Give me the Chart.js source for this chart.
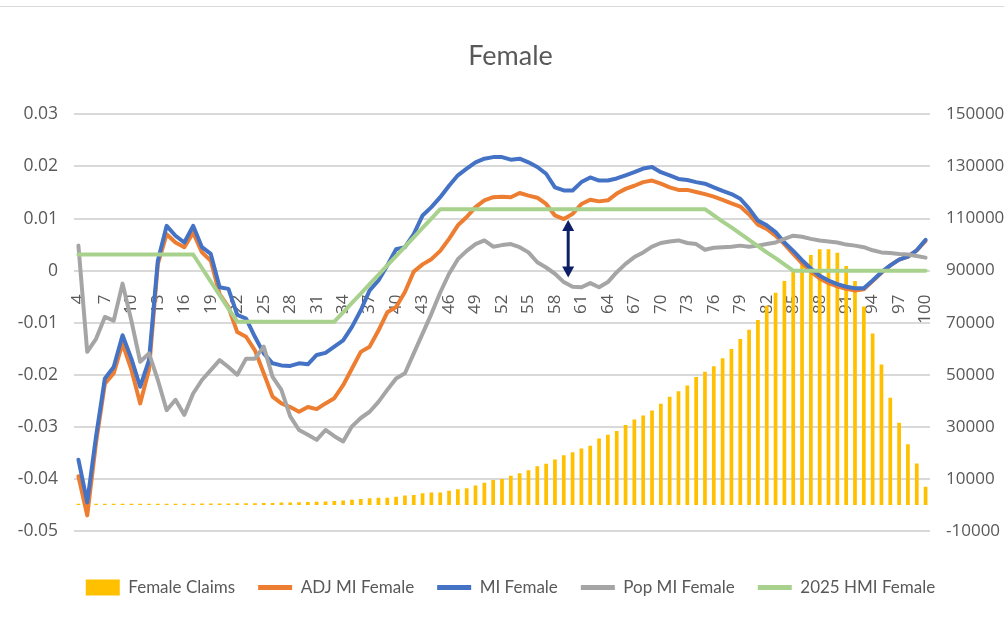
<!DOCTYPE html>
<html>
<head>
<meta charset="utf-8">
<title>Female</title>
<script src="https://cdn.jsdelivr.net/npm/chart.js@4.4.1/dist/chart.umd.min.js"></script>
<style>
  html, body { margin: 0; padding: 0; background: #fff; }
  #wrap { width: 1004px; height: 626px; }
</style>
</head>
<body>
<div id="wrap"><canvas id="chart" width="1004" height="626"></canvas></div>
<script>
// Edades (eje X)
const ages = [];
for (let a = 4; a <= 100; a++) ages.push(String(a));

// Reclamos (eje derecho)
const femaleClaims = [
  500, 450, 450, 450, 450, 450, 450, 450, 450, 450,
  500, 500, 500, 500, 550, 550, 600, 600, 650, 700,
  700, 750, 800, 900, 950, 1000, 1100, 1200, 1300, 1500,
  1700, 2000, 2300, 2600, 2800, 2800, 3200, 3600, 3800, 4500,
  4800, 4800, 5500, 6000, 6400, 7500, 8500, 9600, 10000, 11200,
  12200, 13300, 14900, 15800, 17500, 19100, 20200, 21700, 22700, 25500,
  27000, 28400, 30700, 32800, 34400, 36300, 38900, 41600, 43700, 45900,
  49100, 51200, 53300, 56300, 59900, 63700, 67300, 71000, 76500, 81500,
  86000, 90500, 92400, 96000, 98200, 98200, 96900, 91800, 86000, 76200,
  65900, 53900, 41200, 31600, 23300, 15900, 7000
];

// Series de lineas (eje izquierdo)
const adjMiFemale = [
  -0.0395, -0.047, -0.033, -0.0217, -0.0197, -0.014, -0.019, -0.0255, -0.019, 0.0013,
  0.007, 0.0054, 0.0045, 0.0073, 0.0035, 0.0019, -0.0045, -0.007, -0.0118, -0.0127,
  -0.0153, -0.0197, -0.0242, -0.0255, -0.0262, -0.0271, -0.0262, -0.0266, -0.0255, -0.0245,
  -0.022, -0.0188, -0.0156, -0.0146, -0.0115, -0.008, -0.007, -0.0041, -0.0002, 0.0012,
  0.0022, 0.0038, 0.0061, 0.0087, 0.0103, 0.0122, 0.0135, 0.0141, 0.0142, 0.0141,
  0.0149, 0.0144, 0.014, 0.0128, 0.0106, 0.0099, 0.0109, 0.0128, 0.0136, 0.0133,
  0.0135, 0.0148, 0.0157, 0.0163, 0.017, 0.0173, 0.0167, 0.016, 0.0155, 0.0155,
  0.0151, 0.0147, 0.0142, 0.0136, 0.0129, 0.0123, 0.0108, 0.0088, 0.008, 0.0067,
  0.0051, 0.0032, 0.0014, -0.0002, -0.0015, -0.0024, -0.003, -0.0035, -0.0038, -0.0036,
  -0.002, -0.0004, 0.001, 0.0021, 0.0027, 0.0039, 0.0057
];

const miFemale = [
  -0.0363, -0.0445, -0.0318, -0.0207, -0.0185, -0.0124, -0.0169, -0.0223, -0.0172, 0.0019,
  0.0086, 0.0067, 0.0054, 0.0086, 0.0045, 0.0032, -0.0032, -0.0035, -0.0085, -0.0092,
  -0.0127, -0.0159, -0.0178, -0.0182, -0.0183, -0.0178, -0.018, -0.0162, -0.0158, -0.0146,
  -0.0134, -0.0108, -0.0076, -0.0038, -0.0019, 0.001, 0.0041, 0.0045, 0.007, 0.0106,
  0.0122, 0.0141, 0.0163, 0.0183, 0.0196, 0.0208, 0.0215, 0.0218, 0.0218, 0.0213,
  0.0215, 0.0208, 0.0199, 0.0186, 0.016, 0.0154, 0.0154, 0.017, 0.0179, 0.0173,
  0.0173, 0.0177, 0.0183, 0.0189, 0.0196, 0.0199, 0.0189, 0.0183, 0.0176, 0.0174,
  0.017, 0.0167, 0.016, 0.0153, 0.0147, 0.0138, 0.0119, 0.0096, 0.0087, 0.0074,
  0.0054, 0.0038, 0.002, 0.0004, -0.001, -0.0019, -0.0026, -0.0031, -0.0034, -0.0034,
  -0.0019, -0.0003, 0.001, 0.0021, 0.0027, 0.0039, 0.0059
];

const popMiFemale = [
  0.0048, -0.0156, -0.0131, -0.0089, -0.0096, -0.0025, -0.0096, -0.0175, -0.0159, -0.021,
  -0.0268, -0.0248, -0.0277, -0.0236, -0.021, -0.0191, -0.0172, -0.0185, -0.02, -0.0169,
  -0.0169, -0.0146, -0.0204, -0.0229, -0.028, -0.0306, -0.0315, -0.0325, -0.0306, -0.0318,
  -0.0328, -0.0299, -0.0283, -0.0271, -0.0252, -0.0229, -0.0207, -0.0197, -0.0159, -0.0121,
  -0.0083, -0.0042, -0.0006, 0.0022, 0.0038, 0.0051, 0.0058, 0.0046, 0.0049, 0.0051,
  0.0045, 0.0035, 0.0016, 0.0006, -0.0006, -0.0022, -0.0031, -0.0032, -0.0024, -0.0032,
  -0.0022, -0.0003, 0.0013, 0.0026, 0.0035, 0.0046, 0.0053, 0.0056, 0.0058, 0.0053,
  0.0051, 0.004, 0.0044, 0.0045, 0.0046, 0.0048, 0.0046, 0.0048, 0.0051, 0.0054,
  0.0061, 0.0067, 0.0065, 0.0061, 0.0058, 0.0056, 0.0054, 0.005, 0.0048, 0.0045,
  0.0039, 0.0035, 0.0034, 0.0032, 0.0031, 0.0028, 0.0025
];

const hmiFemale2025 = [
  0.0031, 0.0031, 0.0031, 0.0031, 0.0031, 0.0031, 0.0031, 0.0031, 0.0031, 0.0031,
  0.0031, 0.0031, 0.0031, 0.0031, 0.0005, -0.0021, -0.0047, -0.0073, -0.0098, -0.0098,
  -0.0098, -0.0098, -0.0098, -0.0098, -0.0098, -0.0098, -0.0098, -0.0098, -0.0098, -0.0098,
  -0.008, -0.0062, -0.0044, -0.0026, -0.0008, 0.001, 0.0028, 0.0046, 0.0064, 0.0082,
  0.01, 0.0118, 0.0118, 0.0118, 0.0118, 0.0118, 0.0118, 0.0118, 0.0118, 0.0118,
  0.0118, 0.0118, 0.0118, 0.0118, 0.0118, 0.0118, 0.0118, 0.0118, 0.0118, 0.0118,
  0.0118, 0.0118, 0.0118, 0.0118, 0.0118, 0.0118, 0.0118, 0.0118, 0.0118, 0.0118,
  0.0118, 0.0118, 0.0106, 0.0094, 0.0083, 0.0071, 0.0059, 0.0047, 0.0035, 0.0024,
  0.0012, 0, 0, 0, 0, 0, 0, 0, 0, 0,
  0, 0, 0, 0, 0, 0, 0
];

// Flecha (edad 59-60, de ADJ a Pop)
const arrowAt = ["59", "60"];
const arrowFrom = 0.0097;
const arrowTo = -0.0013;

Chart.defaults.font.family = "'Open Sans', sans-serif";
Chart.defaults.color = "#595959";

const ctx = document.getElementById("chart");

new Chart(ctx, {
  type: "bar",
  data: {
    labels: ages,
    datasets: [
      {
        label: "Female Claims",
        data: femaleClaims,
        backgroundColor: "#FFC000",
        yAxisID: "y1",
        barPercentage: 0.42,
        categoryPercentage: 1,
        order: 5
      },
      {
        type: "line",
        label: "ADJ MI Female",
        data: adjMiFemale,
        borderColor: "#ED7D31",
        backgroundColor: "#ED7D31",
        yAxisID: "y",
        order: 4
      },
      {
        type: "line",
        label: "MI Female",
        data: miFemale,
        borderColor: "#4472C4",
        backgroundColor: "#4472C4",
        yAxisID: "y",
        order: 3
      },
      {
        type: "line",
        label: "Pop MI Female",
        data: popMiFemale,
        borderColor: "#A5A5A5",
        backgroundColor: "#A5A5A5",
        yAxisID: "y",
        order: 2
      },
      {
        type: "line",
        label: "2025 HMI Female",
        data: hmiFemale2025,
        borderColor: "#A9D18E",
        backgroundColor: "#A9D18E",
        yAxisID: "y",
        order: 1
      }
    ]
  },
  options: {
    responsive: false,
    animation: false,
    layout: { padding: { left: 17, right: 0, top: 0, bottom: 20 } },
    elements: {
      line: { borderWidth: 4, tension: 0, borderJoinStyle: "round", borderCapStyle: "round" },
      point: { radius: 0, hoverRadius: 0 }
    },
    scales: {
      x: {
        position: { y: 0 },
        offset: true,
        grid: { display: false },
        border: { display: false },
        afterFit: (s) => { s.paddingLeft = 0; s.paddingRight = 0; },
        ticks: {
          autoSkip: false,
          maxRotation: 90,
          minRotation: 90,
          padding: 16,
          font: { size: 17 },
          callback: (val, i) => (i % 3 === 0 ? ages[i] : "")
        }
      },
      y: {
        position: "left",
        min: -0.05,
        max: 0.03,
        afterFit: (s) => { s.width = 57; },
        grid: { color: "#d9d9d9", lineWidth: 2, drawTicks: false },
        border: { display: false },
        ticks: {
          stepSize: 0.01,
          padding: 16,
          font: { size: 17.5 },
          callback: (v) => String(Number(v.toFixed(2)))
        }
      },
      y1: {
        position: "right",
        min: -10000,
        max: 150000,
        afterFit: (s) => { s.width = 74; },
        grid: { display: false, drawTicks: false },
        border: { display: false },
        ticks: {
          stepSize: 20000,
          padding: 16,
          font: { size: 17 },
          callback: (v) => String(v)
        }
      }
    },
    plugins: {
      title: {
        display: true,
        text: "Female",
        font: { family: "Lato, sans-serif", size: 27, weight: "normal" },
        padding: { top: 40, bottom: 42 }
      },
      legend: {
        position: "bottom",
        title: { display: true, text: "", font: { size: 10 }, padding: { top: 0, bottom: 13 } },
        labels: {
          font: { family: "Lato, sans-serif", size: 17 },
          usePointStyle: true,
          pointStyleWidth: 34,
          boxHeight: 16,
          padding: 23,
          sort: (a, b) => a.datasetIndex - b.datasetIndex,
          generateLabels: (chart) => {
            const items = Chart.defaults.plugins.legend.labels.generateLabels(chart);
            items.forEach((it) => {
              const ds = chart.data.datasets[it.datasetIndex];
              if (ds.type === "line") {
                it.pointStyle = "line";
                it.lineWidth = 5;
                it.strokeStyle = ds.borderColor;
              } else {
                it.pointStyle = "rect";
                it.lineWidth = 0;
              }
            });
            return items;
          }
        }
      },
      tooltip: { enabled: false }
    }
  },
  plugins: [{
    id: "marco",
    beforeDraw: (chart) => {
      const c = chart.ctx;
      c.save();
      c.strokeStyle = "#d9d9d9";
      c.lineWidth = 1;
      c.beginPath();
      c.moveTo(0, 6.5);
      c.lineTo(chart.width, 6.5);
      c.stroke();
      c.restore();
    }
  }, {
    id: "flecha",
    afterDatasetsDraw: (chart) => {
      const { ctx, scales } = chart;
      const i0 = ages.indexOf(arrowAt[0]);
      const i1 = ages.indexOf(arrowAt[1]);
      const x = (scales.x.getPixelForValue(i0) + scales.x.getPixelForValue(i1)) / 2;
      const yTop = scales.y.getPixelForValue(arrowFrom);
      const yBot = scales.y.getPixelForValue(arrowTo);
      const head = 10;
      ctx.save();
      ctx.strokeStyle = "#0D1F66";
      ctx.fillStyle = "#0D1F66";
      ctx.lineWidth = 3;
      ctx.beginPath();
      ctx.moveTo(x, yTop + head);
      ctx.lineTo(x, yBot - head);
      ctx.stroke();
      ctx.beginPath();
      ctx.moveTo(x, yTop);
      ctx.lineTo(x - 6, yTop + head + 1);
      ctx.lineTo(x + 6, yTop + head + 1);
      ctx.closePath();
      ctx.fill();
      ctx.beginPath();
      ctx.moveTo(x, yBot);
      ctx.lineTo(x - 6, yBot - head - 1);
      ctx.lineTo(x + 6, yBot - head - 1);
      ctx.closePath();
      ctx.fill();
      ctx.restore();
    }
  }]
});
</script>
</body>
</html>
